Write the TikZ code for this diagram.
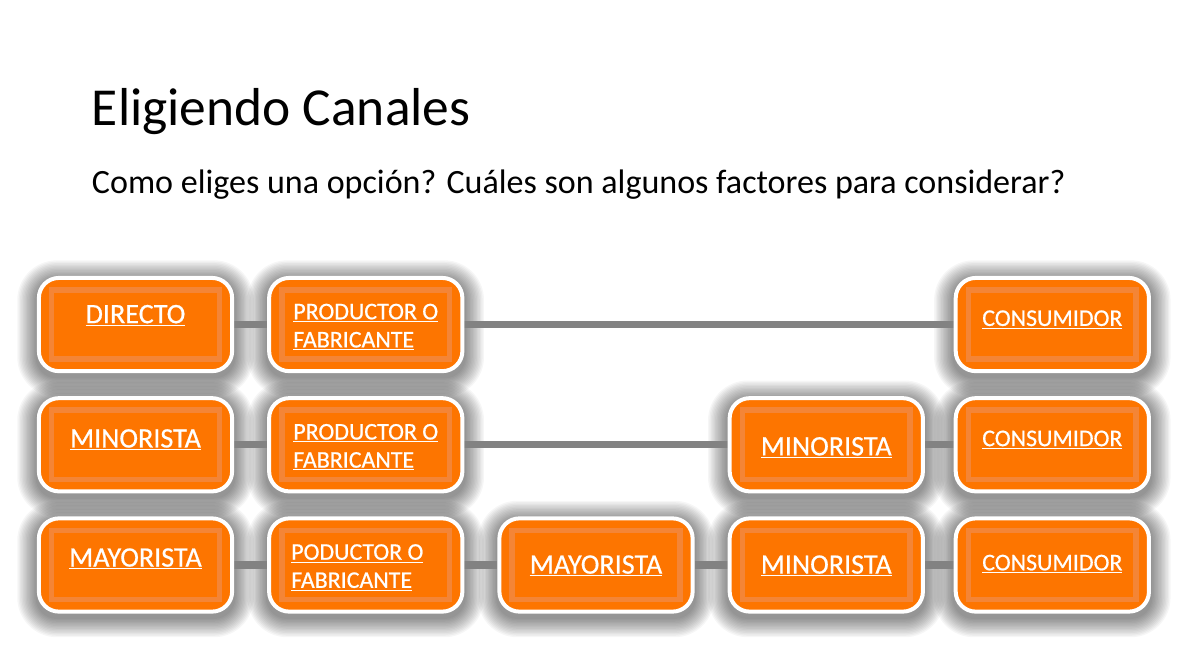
\documentclass[tikz,border=0pt]{standalone}
\usepackage{fontspec}
\setmainfont{Carlito}
\newfontfamily\cajafont{Carlito}[FakeBold=0.6]
\usetikzlibrary{positioning,backgrounds}
\definecolor{naranja}{RGB}{253,117,0}
\definecolor{claro}{RGB}{244,133,54}
\definecolor{linea}{RGB}{130,130,130}
\newcommand{\marca}[1]{\underline{#1}}
\tikzset{
  caja/.style={
    draw=white, line width=1mm, fill=naranja, rounded corners=0.5cm,
    minimum width=4.83cm, minimum height=2.33cm,
    path picture={
      \draw[claro, line width=4pt, sharp corners]
        ([shift={(0.32cm,-0.3cm)}]path picture bounding box.north west)
        rectangle ([shift={(-0.32cm,0.3cm)}]path picture bounding box.south east);
    }
  },
  etq/.style={text=white, inner sep=0pt, font=\cajafont\fontsize{20}{24}\selectfont},
  chico/.style={font=\cajafont\fontsize{17}{20}\selectfont},
  enlace/.style={draw=linea, line width=5pt},
  halo/.style={fill=black, opacity=0.035},
}

\begin{document}
\begin{tikzpicture}[x=0.025cm, y=-0.025cm, node distance=0.575cm and 0.825cm]
  \useasboundingbox (0,0) rectangle (1180,664);

  \node[anchor=base west, font=\fontsize{38}{44}\selectfont] (titulo) at (87,125)
    {Eligiendo Canales};
  \node[anchor=base west, font=\fontsize{24.2}{29}\selectfont] (pregunta) at (87,193)
    {Como eliges una opción? Cuáles son algunos factores para considerar?};

  % fila de abajo
  \node[caja, label={[etq, name=ty1, yshift=4.3pt]center:\marca{MAYORISTA}}] (y1) at (135.5,565) {};
  \node[caja, right=of y1, label={[etq, chico, align=left, name=tp3, xshift=-6pt, yshift=-1.8pt]center:{\marca{PODUCTOR O}\\\marca{FABRICANTE}}}] (p3) {};
  \node[caja, right=of p3, label={[etq, name=ty2, yshift=-0.7pt]center:\marca{MAYORISTA}}] (y2) {};
  \node[caja, right=of y2, label={[etq, name=tm3, yshift=-0.7pt]center:\marca{MINORISTA}}] (m3) {};
  \node[caja, right=0.72cm of m3, label={[etq, chico, name=tc3, yshift=0.7pt]center:\marca{CONSUMIDOR}}] (c3) {};

  % fila del medio
  \node[caja, above=of y1, label={[etq, name=tm1, yshift=3.5pt]center:\marca{MINORISTA}}] (m1) {};
  \node[caja, above=of p3, label={[etq, chico, align=left, name=tp2, yshift=-1.8pt]center:{\marca{PRODUCTOR O}\\\marca{FABRICANTE}}}] (p2) {};
  \node[caja, above=of m3, label={[etq, name=tm2, yshift=-2.1pt]center:\marca{MINORISTA}}] (m2) {};
  \node[caja, above=of c3, label={[etq, chico, name=tc2, yshift=3.5pt]center:\marca{CONSUMIDOR}}] (c2) {};

  % fila de arriba
  \node[caja, above=of m1, label={[etq, name=td1, yshift=6.4pt]center:\marca{DIRECTO}}] (d1) {};
  \node[caja, above=of p2, label={[etq, chico, align=left, name=tp1, yshift=-1.8pt]center:{\marca{PRODUCTOR O}\\\marca{FABRICANTE}}}] (p1) {};
  \node[caja, above=of c2, label={[etq, chico, name=tc1, yshift=3.5pt]center:\marca{CONSUMIDOR}}] (c1) {};

  \begin{scope}[on background layer]
    \fill[white] (0,0) rectangle (1180,664);
    \foreach \n in {d1,p1,c1,m1,p2,m2,c2,y1,p3,y2,m3,c3}
      \foreach \k in {1,...,14}
        \fill[halo, rounded corners={0.5cm+\k*0.035cm}]
          ([shift={(-1.4*\k,-1.4*\k+4)}]\n.north west)
          rectangle ([shift={(1.4*\k,1.4*\k+4)}]\n.south east);
    \draw[enlace] (d1) -- (p1);
    \draw[enlace] (p1) -- (c1);
    \draw[enlace] (m1) -- (p2);
    \draw[enlace] (p2) -- (m2);
    \draw[enlace] (m2) -- (c2);
    \draw[enlace] (y1) -- (p3);
    \draw[enlace] (p3) -- (y2);
    \draw[enlace] (y2) -- (m3);
    \draw[enlace] (m3) -- (c3);
  \end{scope}
\end{tikzpicture}
\end{document}
